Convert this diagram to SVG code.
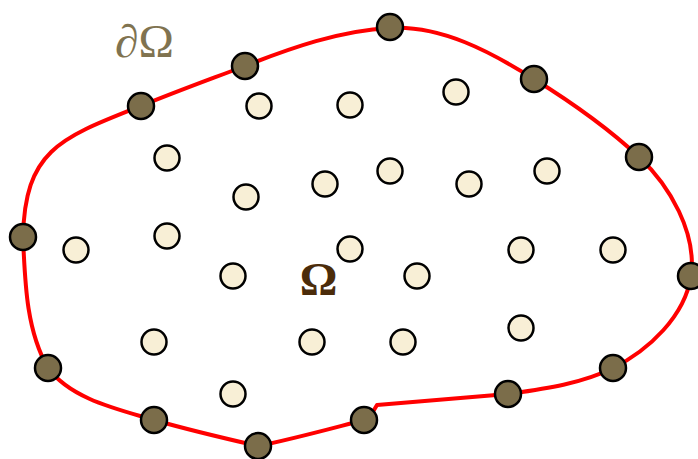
<svg xmlns="http://www.w3.org/2000/svg" width="698" height="459" viewBox="0 0 698 459">
<style>
.b{fill:#7b6d4a;stroke:#000;stroke-width:2.5}
.i{fill:#f8efd6;stroke:#000;stroke-width:2.5}
.lbl{font-family:"Liberation Serif","Times New Roman",serif}
</style>
<rect width="698" height="459" fill="#fff"/>
<g id="connectors">
<path id="boundary" fill="none" stroke="#ff0000" stroke-width="4" stroke-linejoin="round"
d="M390,28 C441,25 491,52 534,79 C571,102 607,127 639,157 C670,186 697,233 691,276 C685,316 649,350 613,368 C581,384 543,389 508,394 L377,405 L374,410 L364,420 C329,429 293,439 258,446 C223,438 189,430 154,420 C117,409 71,399 48,368 C26,330 25,281 23,237 C25,150 60,138 141,106 C175,92 211,79 245,66 C291,48 340,30.5 390,28 Z"/>
</g>
<g id="label-boundary"><text class="lbl" x="115" y="57" font-size="46" fill="#807350" textLength="59" lengthAdjust="spacingAndGlyphs">∂Ω</text></g>
<g id="label-domain"><text class="lbl" x="318.5" y="295" font-size="47" font-weight="bold" fill="#4b2c0a" text-anchor="middle">Ω</text></g>
<g id="boundary-nodes">
<g id="b1"><circle class="b" cx="390" cy="27" r="13"/></g>
<g id="b2"><circle class="b" cx="534" cy="79" r="13"/></g>
<g id="b3"><circle class="b" cx="639" cy="157" r="13"/></g>
<g id="b4"><circle class="b" cx="691" cy="276" r="13"/></g>
<g id="b5"><circle class="b" cx="613" cy="368" r="13"/></g>
<g id="b6"><circle class="b" cx="508" cy="394" r="13"/></g>
<g id="b7"><circle class="b" cx="364" cy="420" r="13"/></g>
<g id="b8"><circle class="b" cx="258" cy="446" r="13"/></g>
<g id="b9"><circle class="b" cx="154" cy="420" r="13"/></g>
<g id="b10"><circle class="b" cx="48" cy="368" r="13"/></g>
<g id="b11"><circle class="b" cx="23" cy="237" r="13"/></g>
<g id="b12"><circle class="b" cx="141" cy="106" r="13"/></g>
<g id="b13"><circle class="b" cx="245" cy="66" r="13"/></g>
</g>
<g id="interior-nodes">
<g id="n1"><circle class="i" cx="259" cy="106" r="12.5"/></g>
<g id="n2"><circle class="i" cx="350" cy="105" r="12.5"/></g>
<g id="n3"><circle class="i" cx="456" cy="92" r="12.5"/></g>
<g id="n4"><circle class="i" cx="167" cy="158" r="12.5"/></g>
<g id="n5"><circle class="i" cx="390" cy="171" r="12.5"/></g>
<g id="n6"><circle class="i" cx="246" cy="197" r="12.5"/></g>
<g id="n7"><circle class="i" cx="325" cy="184" r="12.5"/></g>
<g id="n8"><circle class="i" cx="469" cy="184" r="12.5"/></g>
<g id="n9"><circle class="i" cx="547" cy="171" r="12.5"/></g>
<g id="n10"><circle class="i" cx="76" cy="250" r="12.5"/></g>
<g id="n11"><circle class="i" cx="167" cy="236" r="12.5"/></g>
<g id="n12"><circle class="i" cx="233" cy="276" r="12.5"/></g>
<g id="n13"><circle class="i" cx="350" cy="249" r="12.5"/></g>
<g id="n14"><circle class="i" cx="417" cy="276" r="12.5"/></g>
<g id="n15"><circle class="i" cx="521" cy="250" r="12.5"/></g>
<g id="n16"><circle class="i" cx="613" cy="250" r="12.5"/></g>
<g id="n17"><circle class="i" cx="154" cy="342" r="12.5"/></g>
<g id="n18"><circle class="i" cx="312" cy="342" r="12.5"/></g>
<g id="n19"><circle class="i" cx="403" cy="342" r="12.5"/></g>
<g id="n20"><circle class="i" cx="521" cy="328" r="12.5"/></g>
<g id="n21"><circle class="i" cx="233" cy="394" r="12.5"/></g>
</g>
</svg>
